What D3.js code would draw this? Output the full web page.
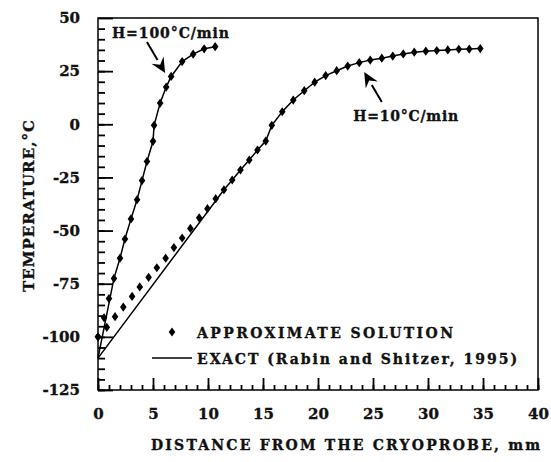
<!DOCTYPE html>
<html>
<head>
<meta charset="utf-8">
<script src="https://cdn.jsdelivr.net/npm/d3@7"></script>
<style>
  body { margin: 0; background: #fff; }
  text { font-family: "DejaVu Serif", "Liberation Serif", serif; font-weight: bold; fill: #111; stroke: #111; stroke-width: 0.35px; }
</style>
</head>
<body>
<svg id="chart" width="551" height="462"></svg>
<script>
// approximate solution (diamonds), [distance mm, temperature C]
var approx100 = [
  [0, -100], [0.55, -91], [1.0, -82], [1.45, -72.5], [2.0, -63], [2.45, -54],
  [3.0, -44.5], [3.55, -35.5], [4.0, -26.5], [4.45, -17.5], [5.0, -8], [5.1, -0.5],
  [5.65, 10], [6.2, 17.5], [6.65, 22.5], [7.65, 29.5], [8.65, 33], [9.65, 35.5], [10.65, 36.5]
];
var approx10 = [
  [0, -100], [0.8, -95.5], [1.55, -90.5], [2.3, -86], [3.1, -81], [3.8, -76.5],
  [4.6, -72], [5.35, -67.5], [6.15, -63], [6.9, -58], [7.65, -53.5], [8.4, -49],
  [9.2, -44], [9.95, -39.7], [10.7, -35], [11.45, -30.8], [12.2, -26.2], [12.95, -21.5],
  [13.75, -16.8], [14.5, -12.1], [15.25, -7.9], [15.8, -0.5], [16.75, 5.9], [17.75, 11.4],
  [18.75, 15.8], [19.7, 19.8], [20.7, 22.9], [21.7, 25.2], [22.7, 27.4], [23.75, 29],
  [24.75, 30.2], [25.8, 31.1], [26.8, 32.1], [27.75, 33.1], [28.75, 33.9], [29.8, 34.4],
  [30.8, 34.7], [31.8, 35], [32.8, 35.3], [33.75, 35.4], [34.75, 35.6]
];
// exact solution (Rabin and Shitzer, 1995)
var exact100 = [
  [0, -110], [1.45, -72.5], [2.0, -63], [2.45, -54], [3.0, -44.5], [3.55, -35.5],
  [4.0, -26.5], [4.45, -17.5], [5.0, -8], [5.1, -0.5], [5.65, 10], [6.2, 17.5],
  [6.65, 22.5], [7.65, 29.5], [8.65, 33], [9.65, 35.5], [10.65, 36.5]
];
var exact10 = [
  [0, -110], [11.45, -30.8], [12.2, -26.2], [12.95, -21.5], [13.75, -16.8], [14.5, -12.1],
  [15.25, -7.9], [15.8, -0.5], [16.75, 5.9], [17.75, 11.4], [18.75, 15.8], [19.7, 19.8],
  [20.7, 22.9], [21.7, 25.2], [22.7, 27.4], [23.75, 29], [24.75, 30.2], [25.8, 31.1],
  [26.8, 32.1], [27.75, 33.1], [28.75, 33.9], [29.8, 34.4], [30.8, 34.7], [31.8, 35],
  [32.8, 35.3], [33.75, 35.4], [34.75, 35.6]
];
var xTicks = [0, 5, 10, 15, 20, 25, 30, 35, 40];
var yTicks = [-125, -100, -75, -50, -25, 0, 25, 50];

var svg = d3.select('#chart');
var x = d3.scaleLinear().domain([0, 40]).range([98, 538]);
var y = d3.scaleLinear().domain([-125, 50]).range([390, 18]);
var ink = '#000';
var plain = function(d) { return String(d); };   // hyphen, not unicode minus

// frame
svg.append('rect')
  .attr('x', x(0)).attr('y', y(50))
  .attr('width', x(40) - x(0)).attr('height', y(-125) - y(50))
  .attr('fill', 'none').attr('stroke', ink).attr('stroke-width', 1.5);

// minor ticks (inward)
var yMinor = svg.append('g')
  .attr('transform', 'translate(' + x(0) + ',0)')
  .call(d3.axisLeft(y).tickValues(d3.range(-125, 50, 5)).tickSize(-7).tickFormat(''));
var xMinor = svg.append('g')
  .attr('transform', 'translate(0,' + y(-125) + ')')
  .call(d3.axisBottom(x).tickValues(d3.range(0, 41, 1)).tickSize(-5).tickFormat(''));

// major ticks + labels
var yAxis = svg.append('g')
  .attr('transform', 'translate(' + x(0) + ',0)')
  .call(d3.axisLeft(y).tickValues(yTicks).tickSize(-15).tickPadding(18).tickFormat(plain));
var xAxis = svg.append('g')
  .attr('transform', 'translate(0,' + y(-125) + ')')
  .call(d3.axisBottom(x).tickValues(xTicks).tickSize(-12).tickPadding(18).tickFormat(plain));

[yMinor, xMinor, yAxis, xAxis].forEach(function(g) {
  g.select('.domain').remove();
  g.selectAll('.tick line').attr('stroke', ink).attr('stroke-width', 1.8);
  g.selectAll('text').attr('font-size', 15).attr('font-family', null).attr('fill', '#111');
});

// axis titles
svg.append('text')
  .attr('x', 151).attr('y', 450)
  .attr('font-size', 14)
  .attr('textLength', 389).attr('lengthAdjust', 'spacing')
  .text('DISTANCE FROM THE CRYOPROBE, mm');
svg.append('text')
  .attr('transform', 'translate(34,292) rotate(-90)')
  .attr('font-size', 15)
  .attr('textLength', 172).attr('lengthAdjust', 'spacing')
  .text('TEMPERATURE,°C');

// curves
var line = d3.line().x(function(d) { return x(d[0]); }).y(function(d) { return y(d[1]); });
[exact100, exact10].forEach(function(s) {
  svg.append('path').datum(s)
    .attr('d', line).attr('fill', 'none')
    .attr('stroke', ink).attr('stroke-width', 1.5);
});

var diamond = 'M0,-4.6L3.3,0L0,4.6L-3.3,0Z';
[approx100, approx10].forEach(function(s) {
  svg.append('g').selectAll('path').data(s).join('path')
    .attr('d', diamond)
    .attr('transform', function(d) { return 'translate(' + x(d[0]) + ',' + y(d[1]) + ')'; })
    .attr('fill', ink);
});

// annotations
function arrow(x0, y0, x1, y1) {
  var px0 = x(x0), py0 = y(y0), px1 = x(x1), py1 = y(y1);
  var a = Math.atan2(py1 - py0, px1 - px0);
  var len = 15, half = 7;
  var bx = px1 - len * Math.cos(a), by = py1 - len * Math.sin(a);
  svg.append('line')
    .attr('x1', px0).attr('y1', py0).attr('x2', bx).attr('y2', by)
    .attr('stroke', ink).attr('stroke-width', 2);
  svg.append('path')
    .attr('d', 'M' + px1 + ',' + py1 +
      'L' + (bx + half * Math.sin(a)) + ',' + (by - half * Math.cos(a)) +
      'L' + (px1 - 0.65 * len * Math.cos(a)) + ',' + (py1 - 0.65 * len * Math.sin(a)) +
      'L' + (bx - half * Math.sin(a)) + ',' + (by + half * Math.cos(a)) + 'Z')
    .attr('fill', ink);
}

svg.append('text')
  .attr('x', x(1.27)).attr('y', y(40.6))
  .attr('font-size', 14)
  .attr('textLength', 117).attr('lengthAdjust', 'spacing')
  .text('H=100°C/min');
arrow(4.45, 38.7, 6.1, 24.1);

svg.append('text')
  .attr('x', x(23.2)).attr('y', y(1.5))
  .attr('font-size', 14)
  .attr('textLength', 105).attr('lengthAdjust', 'spacing')
  .text('H=10°C/min');
arrow(25.8, 10.5, 24.2, 24.6);

// legend
svg.append('path')
  .attr('d', diamond)
  .attr('transform', 'translate(172,332)')
  .attr('fill', ink);
svg.append('text')
  .attr('x', 197).attr('y', 338)
  .attr('font-size', 14)
  .attr('textLength', 256).attr('lengthAdjust', 'spacing')
  .text('APPROXIMATE SOLUTION');
svg.append('line')
  .attr('x1', 152).attr('x2', 192).attr('y1', 358).attr('y2', 358)
  .attr('stroke', ink).attr('stroke-width', 1.3);
svg.append('text')
  .attr('x', 197).attr('y', 364)
  .attr('font-size', 14)
  .attr('textLength', 320).attr('lengthAdjust', 'spacing')
  .text('EXACT (Rabin and Shitzer, 1995)');
</script>
</body>
</html>
